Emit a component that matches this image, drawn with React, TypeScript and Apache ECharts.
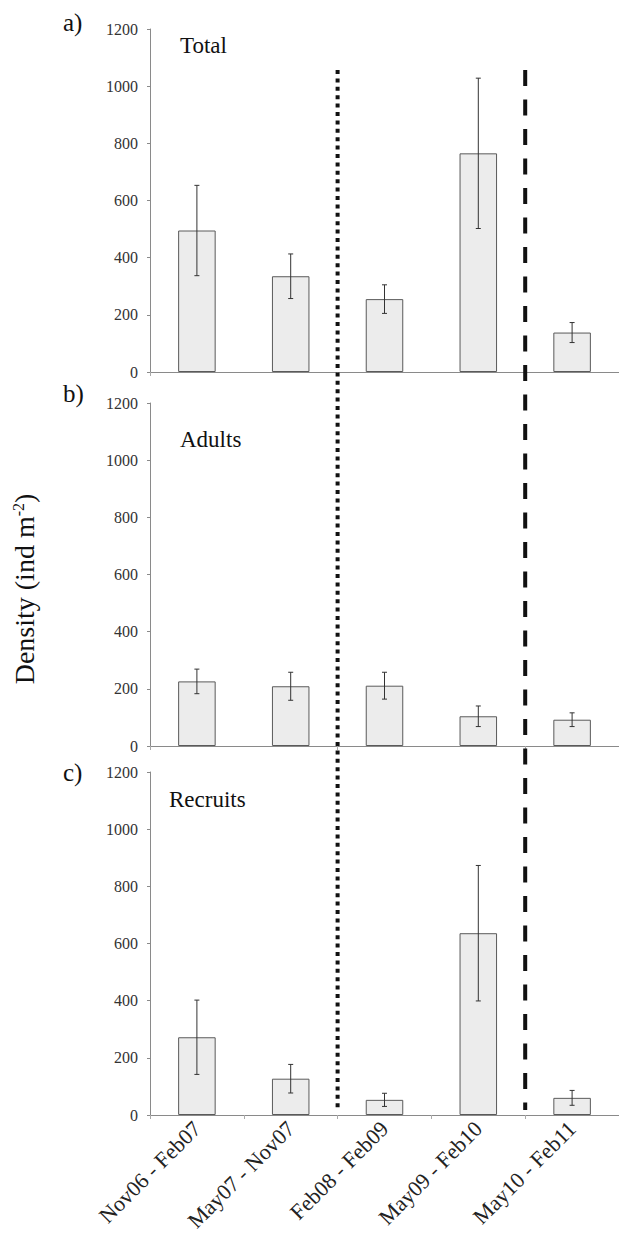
import React, { useEffect, useRef } from "react";
import * as echarts from "echarts";

const categories = ["Nov06 - Feb07", "May07 - Nov07", "Feb08 - Feb09", "May09 - Feb10", "May10 - Feb11"];
const totalMean = [495, 335, 255, 765, 138];
const totalErr = [158, 78, 50, 263, 35];
const adultsMean = [226, 209, 211, 104, 92];
const adultsErr = [43, 49, 47, 36, 24];
const recruitsMean = [272, 127, 53, 636, 60];
const recruitsErr = [130, 50, 23, 237, 26];
const panelTitles = ["Total", "Adults", "Recruits"];
const panelLetters = ["a)", "b)", "c)"];
const yMin = 0;
const yMax = 1200;
const yInterval = 200;

const SERIF = "Liberation Serif";

export default function App() {
  const ref = useRef<HTMLDivElement>(null);
  useEffect(() => {
    document.body.style.margin = "0";
    if (!ref.current) return;
    const chart = echarts.init(ref.current, null, { renderer: "svg" });
    const tops = [29, 403, 772];
    const H = 343;
    const means = [totalMean, adultsMean, recruitsMean];
    const errs = [totalErr, adultsErr, recruitsErr];

    const grids = tops.map((t) => ({ left: 150, right: 0, top: t, height: H, containLabel: false }));
    const xAxes = tops.map((_, k) => ({
      type: "category",
      gridIndex: k,
      data: categories,
      axisLine: { show: true, lineStyle: { color: "#8a8a8a", width: 1 } },
      axisTick: { show: true, length: 4, inside: false, lineStyle: { color: "#aaa" } },
      axisLabel: k === 2
        ? { show: true, rotate: 45, fontFamily: SERIF, fontSize: 22, color: "#222", margin: 10, interval: 0 }
        : { show: false },
      splitLine: { show: false },
    }));
    const yAxes = tops.map((_, k) => ({
      type: "value",
      gridIndex: k,
      min: yMin,
      max: yMax,
      interval: yInterval,
      axisLine: { show: true, lineStyle: { color: "#8a8a8a", width: 1 } },
      axisTick: { show: true, length: 3, lineStyle: { color: "#8a8a8a" } },
      axisLabel: {
        fontFamily: SERIF,
        fontSize: 16,
        color: "#333",
        margin: 12,
        formatter: (v: number) => String(v),
      },
      splitLine: { show: false },
    }));

    const series: any[] = [];
    for (let k = 0; k < 3; k++) {
      series.push({
        type: "bar",
        xAxisIndex: k,
        yAxisIndex: k,
        data: means[k],
        barWidth: "40%",
        itemStyle: { color: "#ececec", borderColor: "#5a5a5a", borderWidth: 1 },
        z: 2,
      });
      series.push({
        type: "custom",
        xAxisIndex: k,
        yAxisIndex: k,
        z: 3,
        data: means[k].map((m, i) => [i, m, errs[k][i]]),
        encode: { x: 0, y: 1 },
        renderItem: (params: any, api: any) => {
          const i = api.value(0);
          const m = api.value(1);
          const e = api.value(2);
          const top = api.coord([i, m + e]);
          const bot = api.coord([i, m - e]);
          const x = top[0];
          const hw = 2.5;
          const st = { stroke: "#333", lineWidth: 1 };
          return {
            type: "group",
            children: [
              { type: "line", shape: { x1: x, y1: top[1], x2: x, y2: bot[1] }, style: st },
              { type: "line", shape: { x1: x - hw, y1: top[1], x2: x + hw, y2: top[1] }, style: st },
              { type: "line", shape: { x1: x - hw, y1: bot[1], x2: x + hw, y2: bot[1] }, style: st },
            ],
          };
        },
      });
    }

    chart.setOption({
      animation: false,
      backgroundColor: "#fff",
      textStyle: { fontFamily: SERIF },
      grid: grids,
      xAxis: xAxes,
      yAxis: yAxes,
      series,
    });

    const px = (i: number) => chart.convertToPixel({ xAxisIndex: 0 }, i) as unknown as number;
    const xDot = (px(1) + px(2)) / 2;
    const xDash = (px(3) + px(4)) / 2;

    const graphics: any[] = [
      {
        type: "line",
        shape: { x1: xDot, y1: 70, x2: xDot, y2: 1110 },
        style: { stroke: "#111", lineWidth: 4, lineDash: [4, 4.4], lineCap: "butt" },
        z: 10,
      },
      {
        type: "line",
        shape: { x1: xDash, y1: 70, x2: xDash, y2: 1110 },
        style: { stroke: "#111", lineWidth: 4, lineDash: [16, 13.5], lineCap: "butt" },
        z: 10,
      },
      {
        type: "text",
        x: 24,
        y: 589,
        rotation: Math.PI / 2,
        style: {
          text: "{a|Density (ind m}{s|-2}{a|)}",
          align: "center",
          verticalAlign: "middle",
          rich: {
            a: { fontFamily: SERIF, fontSize: 28, fill: "#111" },
            s: { fontFamily: SERIF, fontSize: 16, fill: "#111", verticalAlign: "top" },
          },
        },
      },
    ];
    const letterY = [22, 393, 772];
    const titlePos = [
      [180, 45],
      [180, 439],
      [169, 799],
    ];
    for (let k = 0; k < 3; k++) {
      graphics.push({
        type: "text",
        x: 63,
        y: letterY[k],
        style: { text: panelLetters[k], fontFamily: SERIF, fontSize: 25, fill: "#111", verticalAlign: "middle", align: "left" },
      });
      graphics.push({
        type: "text",
        x: titlePos[k][0],
        y: titlePos[k][1],
        style: { text: panelTitles[k], fontFamily: SERIF, fontSize: 23, fill: "#111", verticalAlign: "middle", align: "left" },
      });
    }
    chart.setOption({ graphic: graphics });

    return () => chart.dispose();
  }, []);
  return <div ref={ref} style={{ width: 619, height: 1239, position: "absolute", left: 0, top: 0 }} />;
}
